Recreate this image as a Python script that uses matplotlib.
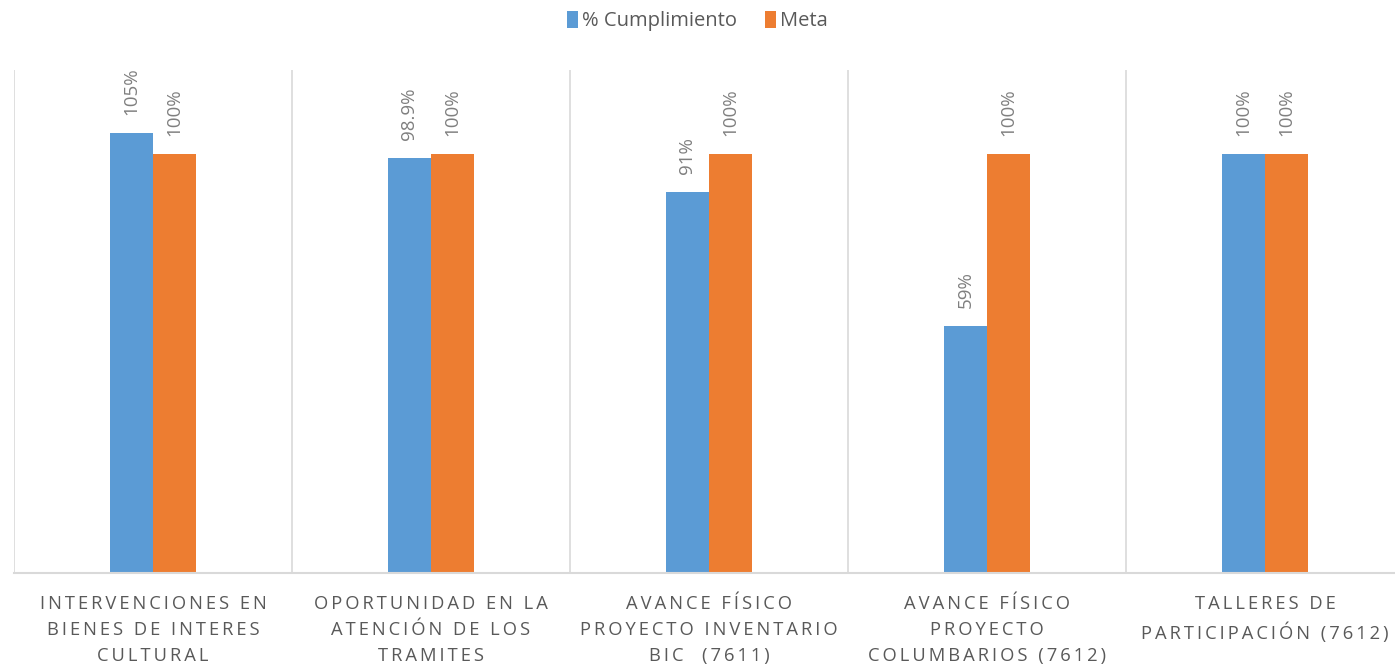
import numpy as np
import matplotlib
matplotlib.use("Agg")
import matplotlib.pyplot as plt

categories = ["INTERVENCIONES EN\nBIENES DE INTERES\nCULTURAL",
              "OPORTUNIDAD EN LA\nATENCIÓN DE LOS\nTRAMITES",
              "AVANCE FÍSICO\nPROYECTO INVENTARIO\nBIC  (7611)",
              "AVANCE FÍSICO\nPROYECTO\nCOLUMBARIOS (7612)",
              "TALLERES DE\nPARTICIPACIÓN (7612)"]
cumplimiento = [105, 98.9, 91, 59, 100]
cumpl_labels = ["105%", "98.9%", "91%", "59%", "100%"]
meta = [100, 100, 100, 100, 100]
meta_labels = ["100%", "100%", "100%", "100%", "100%"]

BLUE = "#5B9BD5"
ORANGE = "#ED7D31"
GRAY = "#595959"
LGRAY = "#7F7F7F"
GRID = "#D9D9D9"

plt.rcParams["font.family"] = ["Open Sans", "DejaVu Sans"]


def spaced(s):
    # mimic the wide letter spacing of the category labels
    return "\n".join("\u2009".join(line) for line in s.split("\n"))


fig = plt.figure(figsize=(13.95, 6.65), dpi=100)
ax = fig.add_axes([14 / 1395, 1 - 573 / 665, 1 - 14 / 1395, (573 - 70) / 665])

x = np.arange(len(categories))
w = 0.155
b1 = ax.bar(x - w / 2, cumplimiento, w, color=BLUE, label="% Cumplimiento")
b2 = ax.bar(x + w / 2, meta, w, color=ORANGE, label="Meta")

for bars, labels in ((b1, cumpl_labels), (b2, meta_labels)):
    for rect, lab in zip(bars, labels):
        ax.annotate(lab, (rect.get_x() + rect.get_width() / 2, rect.get_height()),
                    xytext=(0, 13), textcoords="offset points", rotation=90,
                    ha="center", va="bottom", fontsize=13.5, color=LGRAY)

right = -0.5 + (1395 - 14) / 278
ax.set_xlim(-0.5, right)
ax.set_ylim(0, 120)

# category separators
for b in np.arange(-0.5, len(categories), 1.0):
    ax.axvline(b, color=GRID, lw=1.2, zorder=0)

for s in ["top", "right", "left"]:
    ax.spines[s].set_visible(False)
ax.spines["bottom"].set_color(GRID)
ax.spines["bottom"].set_linewidth(1.5)
ax.set_yticks([])
ax.set_xticks(x)
ax.set_xticklabels([spaced(c) for c in categories], fontsize=13.2, color=GRAY,
                   linespacing=1.58)
ax.tick_params(axis="x", length=0, pad=16)

fig.legend(handles=[b1, b2], labels=["% Cumplimiento", "Meta"], loc="upper center",
           bbox_to_anchor=(0.5, 1.01), ncol=2, frameon=False, fontsize=14.5,
           handlelength=0.55, handleheight=0.85, handletextpad=0.2, columnspacing=1.4,
           labelcolor=GRAY)

fig.savefig("out.png", dpi=100)
